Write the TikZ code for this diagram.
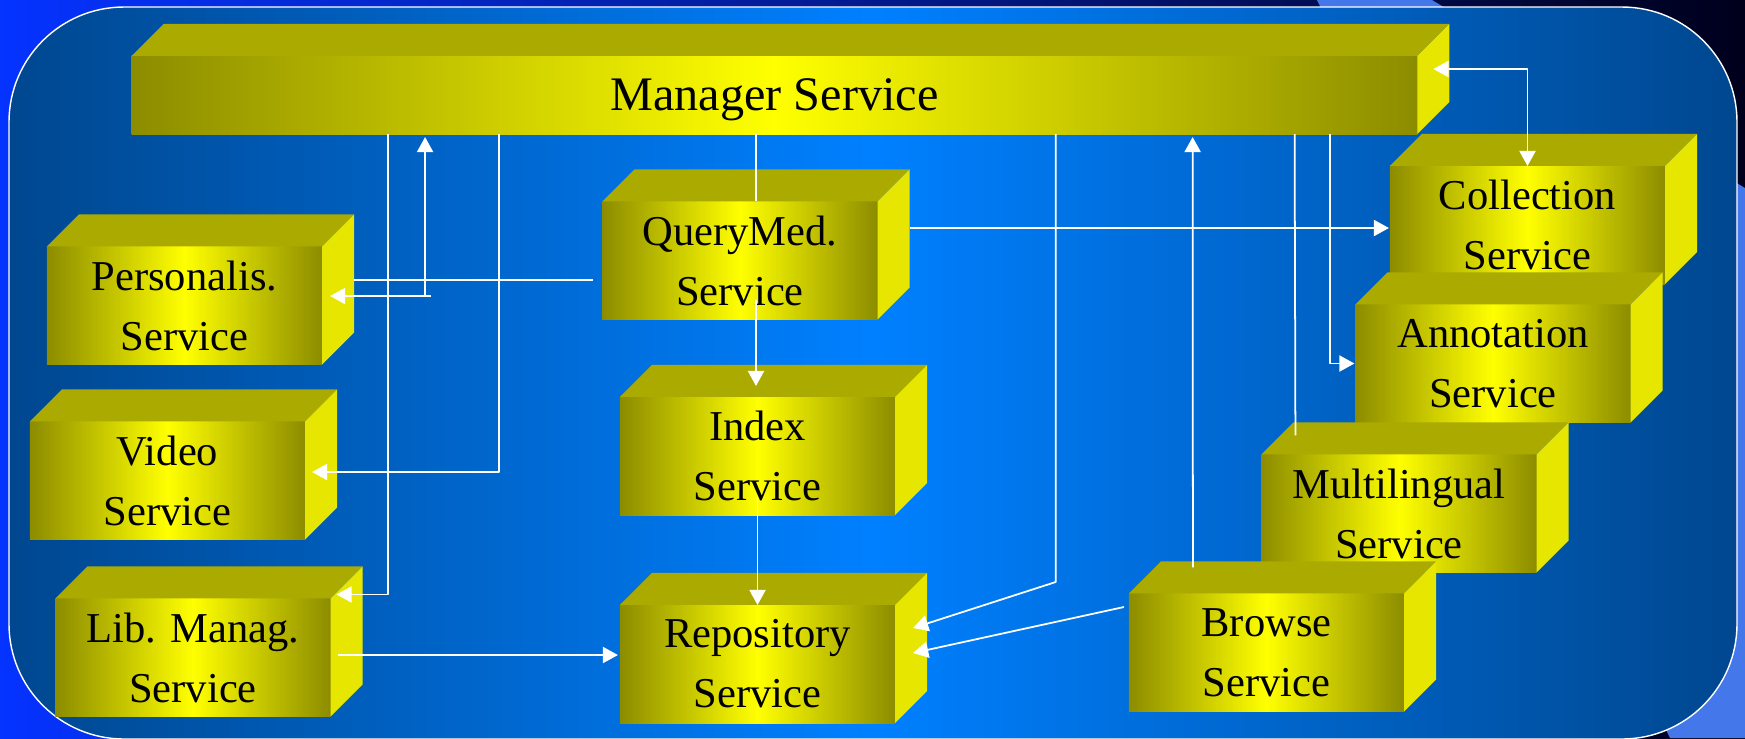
\documentclass[tikz,border=0pt]{standalone}
\usepackage{fontspec}
\newfontfamily\svcfont{Liberation Serif}
\usetikzlibrary{calc,arrows.meta}
\definecolor{bgleft}{HTML}{0533FF}
\definecolor{bgright}{HTML}{00001C}
\definecolor{bandblue}{HTML}{4377EA}
\definecolor{paneedge}{HTML}{00478F}
\definecolor{panemid}{HTML}{0080FF}
\definecolor{oliveedge}{HTML}{8C8C00}
\definecolor{brightyellow}{HTML}{FFFF00}
\definecolor{topolive}{HTML}{AAAA00}
\definecolor{sideyellow}{HTML}{E6E600}
\tikzset{
  svc/.style={shading=axis, left color=oliveedge, right color=oliveedge, middle color=brightyellow,
    minimum width=2.75cm, minimum height=1.18cm, inner sep=0pt, outer sep=0pt, align=center,
    font=\svcfont\fontsize{12.1}{17.1}\selectfont},
  topface/.style={fill=topolive},
  sideface/.style={fill=sideyellow},
  link/.style={draw=white, line width=0.5pt},
}
% front face as a node, top and right side drawn from its corners
\newcommand\servicebox[4][]{%
  \node[svc,#1] (#2) at #3 {#4};
  \fill[topface] (#2.north west) -- ++(32,-32) -- ($(#2.north east)+(32,-32)$) -- (#2.north east) -- cycle;
  \fill[sideface] (#2.north east) -- ++(32,-32) -- ($(#2.south east)+(32,-32)$) -- (#2.south east) -- cycle;
}
\begin{document}
\begin{tikzpicture}[x=0.01cm, y=-0.01cm, line join=round, >={Triangle[length=4.3pt,width=4.6pt]}]
  \useasboundingbox (0,0) rectangle (1745,738);
  % background
  \fill[left color=bgleft, right color=bgright] (0,0) rectangle (1745,738);
  \fill[bandblue] (1317,0) -- (1432,0) -- (1745,188) -- (1745,738) -- (1670,738) -- cycle;
  \draw[white, line width=0.4pt, rounded corners=1.15cm, left color=paneedge, right color=paneedge, middle color=panemid]
    (9,7) rectangle (1737,739);

  % boxes
  \servicebox[minimum width=12.85cm, minimum height=0.78cm, text depth=0pt, font=\svcfont\fontsize{13.7}{16}\selectfont]{man}{(774.5,95)}{Manager Service}
  \foreach \name/\cx/\cy/\txt in {
    pers/184.5/305.5/{Personalis.\\Service},
    video/167.5/480.5/{Video\\Service},
    lib/193/657.5/{Lib. Manag.\\Service},
    query/740/260.5/{QueryMed.\\Service},
    index/757.5/456/{Index\\Service},
    repo/757.5/664/{Repository\\Service},
    coll/1527.5/225/{Collection\\Service},
    annot/1493/363.5/{Annotation\\Service},
    multi/1399/513.5/{Multilingual\\Service},
    browse/1266.5/652.5/{Browse\\Service}}
    {\servicebox{\name}{(\cx,\cy)}{\txt}}

  % links
  \draw[link,->] ($(man.south west)+(256,0)$) |- ($(lib.north east)+(6,-4)$);
  \draw[link,->] ($(man.south west)+(367,0)$) |- ($(video.east)+(7,-8.5)$);
  \coordinate (pfork) at ($(pers.east)+(103,-9.5)$);
  \draw[link,->] (pfork) -- ($(pfork |- man.south)+(0,3)$);
  \draw[link,->] ($(pfork)+(6,0)$) -- ($(pers.east)+(8,-9.5)$);
  \draw[link] ($(pers.east)+(32,-25.5)$) -- ($(query.west)+(-9,19.5)$);
  \draw[link] ($(query.north)+(16,0)$) -- ($(man.south)+(-18.5,0)$);
  \draw[link,->] ($(query.south)+(16,-20)$) -- ($(index.north)+(-1.5,-11)$);
  \draw[link,->] ($(query.east)+(32,-32.5)$) -- ($(coll.west)+(-1,3)$);
  \draw[link,->] ($(man.south west)+(924,0)$) -- ++(0,448) -- ($(repo.east)+(18,-36)$);
  \draw[link,->] ($(browse.north west)+(64,-26)$) -- ($(man.south west)+(1061,3)$);
  \draw[link] ($(man.south west)+(1163,0)$) -- ($(multi.north west)+(34,-19)$);
  \draw[link,->] ($(man.south west)+(1198,0)$) |- ($(annot.west)+(-1,0)$);
  \draw[link,<->] ($(man.east)+(16,-26)$) -| (coll.north);
  \draw[link,->] ($(lib.east)+(7,-2.5)$) -- ($(repo.west)+(-2,-9)$);
  \draw[link,->] ($(index.south)+(0,-18)$) -- (repo.north);
  \draw[link,->] ($(browse.west)+(-5,-45.5)$) -- ($(repo.east)+(18,-11)$);
\end{tikzpicture}
\end{document}
